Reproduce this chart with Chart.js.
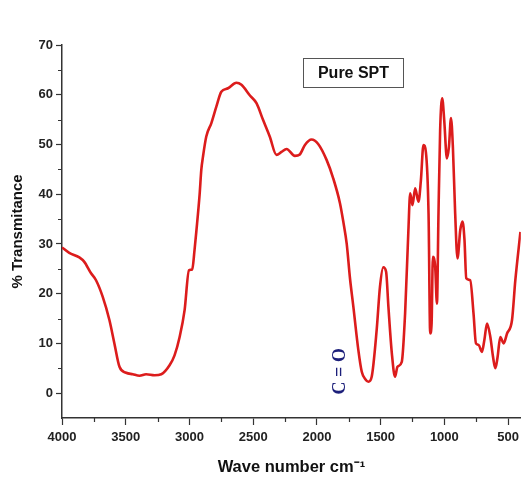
<!DOCTYPE html>
<html>
<head>
<meta charset="utf-8">
<script src="https://cdn.jsdelivr.net/npm/chart.js@4/dist/chart.umd.min.js"></script>
<style>
  html, body { margin: 0; padding: 0; background: #fff; }
  #wrap { width: 524px; height: 478px; }
</style>
</head>
<body>
<div id="wrap"><canvas id="ftir"></canvas></div>
<script>
// FTIR spectrum - Pure SPT
const waveNumbers = [4000, 3943, 3864, 3825, 3772, 3733, 3681, 3628, 3589, 3549, 3497, 3445, 3392, 3340, 3274, 3221,
  3156, 3117, 3077, 3038, 3004, 2978, 2960, 2946, 2920, 2907, 2894, 2868, 2828, 2789, 2750, 2697, 2632, 2592, 2527,
  2474, 2422, 2370, 2317, 2278, 2238, 2173, 2134, 2094, 2042, 1990, 1924, 1872, 1819, 1793, 1766, 1740, 1714, 1675,
  1648, 1620, 1596, 1570, 1531, 1505, 1479, 1457, 1439, 1412, 1387, 1368, 1334, 1308, 1282, 1268, 1250, 1229, 1203,
  1184, 1164, 1145, 1124, 1111, 1100, 1090, 1072, 1058, 1046, 1033, 1017, 1001, 980, 964, 948, 933, 915, 897, 875,
  857, 842, 828, 797, 771, 752, 731, 705, 686, 665, 639, 618, 600, 582, 561, 535, 508, 469, 443, 403];
const transmittance = [29.3, 28.2, 27.3, 26.4, 24.1, 22.7, 19.4, 14.7, 10.0, 5.3, 4.1, 3.8, 3.5, 3.8, 3.6, 3.8,
  5.6, 7.6, 11.3, 16.7, 24.7, 24.9, 28.8, 32.5, 40.0, 44.9, 47.5, 51.6, 54.3, 57.6, 60.6, 61.3, 62.4, 62.0, 59.9,
  58.3, 54.9, 51.6, 47.9, 48.5, 49.1, 47.7, 48.0, 49.9, 51.0, 50.1, 46.9, 43.2, 38.2, 34.5, 30.0, 23.0, 17.4, 8.7,
  4.3, 2.8, 2.3, 3.3, 12.7, 21.4, 25.3, 24.4, 17.4, 8.0, 3.3, 5.3, 6.3, 16.0, 32.8, 40.2, 37.8, 41.2, 38.5,
  42.8, 49.9, 48.5, 36.1, 12.0, 14.0, 27.4, 25.4, 18.0, 36.1, 52.9, 59.3, 54.9, 47.2, 49.5, 55.3, 49.5, 36.1, 27.1, 32.8,
  34.5, 30.8, 23.1, 22.7, 16.0, 10.0, 9.7, 8.3, 10.7, 14.0, 11.3, 7.3, 5.0, 7.3, 11.3, 10.0, 12.0, 14.7, 22.7, 32.4];

const xTicks = [4000, 3500, 3000, 2500, 2000, 1500, 1000, 500];
const xMinorTicks = [3750, 3250, 2750, 2250, 1750, 1250, 750];
const yTicks = [0, 10, 20, 30, 40, 50, 60, 70];
const yMinorTicks = [5, 15, 25, 35, 45, 55, 65];

const sampleName = 'Pure SPT';
const bandLabel = { text: 'C = O', x: 1819, y: 4.4 };

const axisColor = '#333';
const tickFont = { family: 'Liberation Sans, Arial, sans-serif', size: 13, weight: 'bold' };

// small ticks between the labelled ones + legend box + band label
const extras = {
    id: 'extras',
    afterDraw(chart) {
        const { ctx, chartArea: a, scales: { x, y } } = chart;
        ctx.save();
        ctx.strokeStyle = axisColor;
        ctx.lineWidth = 1.2;
        ctx.beginPath();
        xMinorTicks.forEach(v => {
            const px = Math.round(x.getPixelForValue(v)) + 0.5;
            ctx.moveTo(px, a.bottom);
            ctx.lineTo(px, a.bottom + 4);
        });
        yMinorTicks.forEach(v => {
            const py = Math.round(y.getPixelForValue(v)) + 0.5;
            ctx.moveTo(a.left, py);
            ctx.lineTo(a.left - 4, py);
        });
        ctx.stroke();

        // sample box
        ctx.strokeStyle = '#555';
        ctx.lineWidth = 1;
        ctx.strokeRect(303.5, 58.5, 100, 29);
        ctx.fillStyle = '#111';
        ctx.font = 'bold 16px "Liberation Sans", Arial, sans-serif';
        ctx.textAlign = 'center';
        ctx.textBaseline = 'middle';
        ctx.fillText(sampleName, 353.5, 73.5);

        // C = O band
        ctx.translate(x.getPixelForValue(bandLabel.x), y.getPixelForValue(bandLabel.y));
        ctx.rotate(-Math.PI / 2);
        ctx.fillStyle = '#1c1f7a';
        ctx.font = 'bold 18px "Liberation Serif", "Times New Roman", serif';
        ctx.fillText(bandLabel.text, 0, 0);
        ctx.restore();
    }
};

new Chart(document.getElementById('ftir'), {
    type: 'line',
    data: {
        datasets: [{
            data: waveNumbers.map((w, i) => ({ x: w, y: transmittance[i] })),
            borderColor: '#dc1c1c',
            borderWidth: 2.6,
            pointRadius: 0,
            cubicInterpolationMode: 'monotone',
            fill: false
        }]
    },
    options: {
        responsive: true,
        maintainAspectRatio: false,
        animation: false,
        layout: { padding: { top: 45, right: 3, left: 0, bottom: 0 } },
        plugins: { legend: { display: false }, tooltip: { enabled: false } },
        scales: {
            x: {
                type: 'linear',
                reverse: true,
                min: 400,
                max: 4000,
                afterBuildTicks: s => { s.ticks = xTicks.map(v => ({ value: v })); },
                afterFit: s => { s.height = 60; },
                border: { color: axisColor, width: 1.5 },
                grid: { drawOnChartArea: false, tickLength: 7, tickColor: axisColor, tickWidth: 1.2 },
                ticks: {
                    font: tickFont, color: '#222', padding: 5, maxRotation: 0, autoSkip: false,
                    callback: v => String(v)
                },
                title: {
                    display: true,
                    text: 'Wave number cm⁻¹',
                    color: '#111',
                    font: { family: 'Liberation Sans, Arial, sans-serif', size: 16.5, weight: 'bold' },
                    padding: { top: 0, bottom: 1 }
                }
            },
            y: {
                min: -5,
                max: 70,
                afterBuildTicks: s => { s.ticks = yTicks.map(v => ({ value: v })); },
                afterFit: s => { s.width = 62; },
                border: { color: axisColor, width: 1.5 },
                grid: { drawOnChartArea: false, tickLength: 6, tickColor: axisColor, tickWidth: 1.2 },
                ticks: { font: tickFont, color: '#222', padding: 3, callback: v => String(v) },
                title: {
                    display: true,
                    text: '% Transmitance',
                    color: '#111',
                    font: { family: 'Liberation Sans, Arial, sans-serif', size: 15, weight: 'bold' },
                    padding: { top: 9, bottom: 0 }
                }
            }
        }
    },
    plugins: [extras]
});
</script>
</body>
</html>
